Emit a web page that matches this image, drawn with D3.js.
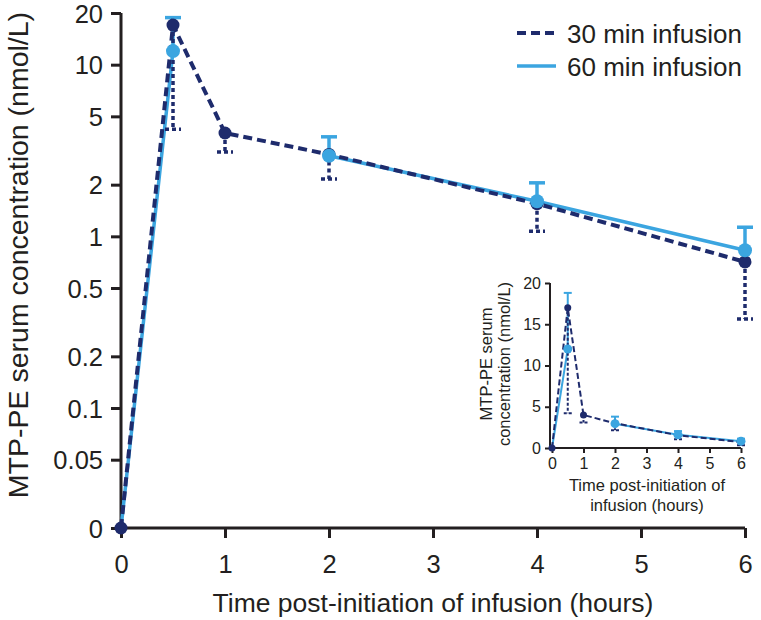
<!DOCTYPE html>
<html><head><meta charset="utf-8">
<script src="https://cdn.jsdelivr.net/npm/d3@7"></script>
<style>body{margin:0;background:#fff}svg{display:block;font-family:"Liberation Sans",Arial,sans-serif}</style>
</head><body><svg id="c" width="761" height="620"></svg>
<script>
// ---- data ----
const times = [0, 0.5, 1, 2, 4, 6];
const mean30 = [0, 17.0, 4.0, 3.0, 1.55, 0.71];
const lower30 = [null, 4.2, 3.1, 2.16, 1.07, 0.33];
const mean60 = [0, 12.0, null, 2.95, 1.6, 0.83];
const upper60 = [null, 18.8, null, 3.8, 2.05, 1.13];
const seriesNames = ["30 min infusion", "60 min infusion"];
const yTickValues = [0, 0.05, 0.1, 0.2, 0.5, 1, 2, 5, 10, 20];
const yTickLabels = ["0", "0.05", "0.1", "0.2", "0.5", "1", "2", "5", "10", "20"];
const xTickValues = [0, 1, 2, 3, 4, 5, 6];
const insetYTicks = [0, 5, 10, 15, 20];
const xTitle = "Time post-initiation of infusion (hours)";
const yTitle = "MTP-PE serum concentration (nmol/L)";

const DARK = "#1e2b6c", LIGHT = "#3ba5e0", AX = "#231f20";
const svg = d3.select("#c");
const fmt = d3.format("d");

// ---- main scales ----
const ZERO = 0.02;
const x = d3.scaleLinear().domain([0, 6]).range([121, 745]);
const yLog = d3.scaleLog().domain([ZERO, 20]).range([528, 13]);
const y = v => yLog(v === 0 ? ZERO : v);

function drawPanel(g, xs, ys, opt) {
  const pts30 = times.map((t, i) => ({t, v: mean30[i], lo: lower30[i]}));
  const pts60 = times.map((t, i) => ({t, v: mean60[i], hi: upper60[i]}));
  const line = d3.line().defined(d => d.v !== null).x(d => xs(d.t)).y(d => ys(d.v));
  g.append("path").datum(pts60).attr("d", line).attr("fill", "none")
    .attr("stroke", LIGHT).attr("stroke-width", opt.lw);
  pts60.filter(d => d.hi !== null && d.v !== null).forEach(d => {
    g.append("line").attr("x1", xs(d.t)).attr("x2", xs(d.t)).attr("y1", ys(d.v)).attr("y2", ys(d.hi))
      .attr("stroke", LIGHT).attr("stroke-width", opt.ew);
    g.append("line").attr("x1", xs(d.t) - opt.cap).attr("x2", xs(d.t) + opt.cap).attr("y1", ys(d.hi)).attr("y2", ys(d.hi))
      .attr("stroke", LIGHT).attr("stroke-width", opt.ew);
  });
  pts30.filter(d => d.lo !== null).forEach(d => {
    g.append("line").attr("x1", xs(d.t)).attr("x2", xs(d.t)).attr("y1", ys(d.v)).attr("y2", ys(d.lo))
      .attr("stroke", DARK).attr("stroke-width", opt.ew).attr("stroke-dasharray", opt.dot);
    g.append("line").attr("x1", xs(d.t) - opt.cap).attr("x2", xs(d.t) + opt.cap).attr("y1", ys(d.lo)).attr("y2", ys(d.lo))
      .attr("stroke", DARK).attr("stroke-width", opt.ew).attr("stroke-dasharray", opt.dot);
  });
  g.append("path").datum(pts30).attr("d", line).attr("fill", "none")
    .attr("stroke", DARK).attr("stroke-width", opt.dlw).attr("stroke-dasharray", opt.dash);
  g.selectAll(".m30").data(pts30).join("circle").attr("cx", d => xs(d.t)).attr("cy", d => ys(d.v))
    .attr("r", opt.r).attr("fill", DARK);
  g.selectAll(".m60").data(pts60.filter(d => d.v !== null && d.v > 0)).join("circle")
    .attr("cx", d => xs(d.t)).attr("cy", d => ys(d.v)).attr("r", opt.r2 || opt.r).attr("fill", LIGHT);
}

// ---- main axes ----
const main = svg.append("g");
const yAxis = d3.axisLeft(yLog).tickValues(yTickValues.map(v => v === 0 ? ZERO : v))
  .tickFormat((d, i) => yTickLabels[i]).tickSize(10).tickSizeOuter(0).tickPadding(8);
const gy = main.append("g").attr("transform", "translate(121,0)").call(yAxis);
const xAxis = d3.axisBottom(x).tickValues(xTickValues).tickFormat(fmt).tickSize(10).tickSizeOuter(0).tickPadding(8);
const gx = main.append("g").attr("transform", "translate(0,528)").call(xAxis);
[gy, gx].forEach(g => {
  g.select(".domain").attr("stroke", AX).attr("stroke-width", 3);
  g.selectAll(".tick line").attr("stroke", AX).attr("stroke-width", 3);
  g.selectAll(".tick text").attr("fill", AX).style("font-size", "25.5px").style("font-family", "Liberation Sans, Arial");
});
gy.select(".domain").attr("d", "M0,13V528");
gx.select(".domain").attr("d", "M121,0H745");
gy.selectAll(".tick text").attr("dy", "0.36em");
gx.selectAll(".tick text").attr("dy", "1.05em");

main.append("text").attr("x", 433).attr("y", 612).attr("text-anchor", "middle")
  .attr("fill", AX).style("font-size", "26.5px").text(xTitle);
main.append("text").attr("transform", "translate(28,255) rotate(-90)").attr("text-anchor", "middle")
  .attr("fill", AX).style("font-size", "28.5px").text(yTitle);

drawPanel(main.append("g"), x, y, {lw: 3.5, dlw: 4, ew: 3.5, cap: 8, r: 6.5, r2: 7, dash: "9,5", dot: "4,3"});

// ---- legend ----
const leg = svg.append("g");
[[DARK, "9,5", 4], [LIGHT, null, 3.5]].forEach((s, i) => {
  const yy = 33 + i * 33;
  leg.append("line").attr("x1", 517).attr("x2", 556).attr("y1", yy).attr("y2", yy)
    .attr("stroke", s[0]).attr("stroke-width", s[2]).attr("stroke-dasharray", s[1]);
  leg.append("text").attr("x", 567).attr("y", yy + 10).attr("fill", AX)
    .style("font-size", "26px").text(seriesNames[i]);
});

// ---- inset ----
const xi = d3.scaleLinear().domain([0, 6]).range([552, 741]);
const yi = d3.scaleLinear().domain([0, 20]).range([448, 283]);
const inset = svg.append("g");
const giy = inset.append("g").attr("transform", "translate(550,0)")
  .call(d3.axisLeft(yi).tickValues(insetYTicks).tickFormat(fmt).tickSize(5).tickSizeOuter(0).tickPadding(4));
const gix = inset.append("g").attr("transform", "translate(0,448)")
  .call(d3.axisBottom(xi).tickValues(xTickValues).tickFormat(fmt).tickSize(5).tickSizeOuter(0).tickPadding(5));
[giy, gix].forEach(g => {
  g.select(".domain").attr("stroke", AX).attr("stroke-width", 2);
  g.selectAll(".tick line").attr("stroke", AX).attr("stroke-width", 2);
  g.selectAll(".tick text").attr("fill", AX).style("font-size", "16px").style("font-family", "Liberation Sans, Arial");
});
giy.select(".domain").attr("d", "M0,283V448");
gix.select(".domain").attr("d", "M550,0H741");
drawPanel(inset.append("g"), xi, yi, {lw: 2, dlw: 2, ew: 2, cap: 4, r: 3.5, r2: 4.5, dash: "6,3", dot: "3,2"});

inset.append("text").attr("x", 647).attr("y", 491).attr("text-anchor", "middle").attr("fill", AX)
  .style("font-size", "16.5px").text("Time post-initiation of");
inset.append("text").attr("x", 647).attr("y", 511).attr("text-anchor", "middle").attr("fill", AX)
  .style("font-size", "16.5px").text("infusion (hours)");
inset.append("text").attr("transform", "translate(492,364) rotate(-90)").attr("text-anchor", "middle")
  .attr("fill", AX).style("font-size", "16.5px").text("MTP-PE serum");
inset.append("text").attr("transform", "translate(510,364) rotate(-90)").attr("text-anchor", "middle")
  .attr("fill", AX).style("font-size", "16.5px").text("concentration (nmol/L)");
</script></body></html>
